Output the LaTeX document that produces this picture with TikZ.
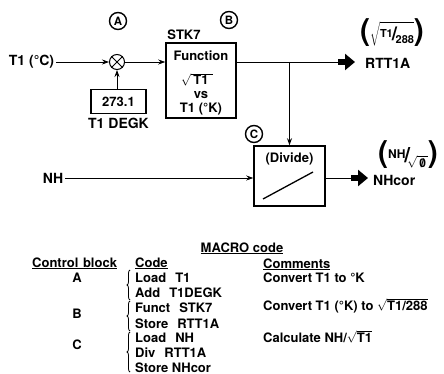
\documentclass[tikz,border=0pt]{standalone}
\usepackage{fontspec}
\setmainfont{TeX Gyre Heros}
\usetikzlibrary{arrows.meta,decorations.pathreplacing,calc}
\newcommand{\myfrac}[2]{\raisebox{0.5ex}{\fontsize{11}{11}\selectfont #1}\kern-1pt{\fontsize{19}{19}\selectfont/}\kern-1.5pt\raisebox{-0.35ex}{\fontsize{11}{11}\selectfont #2}}
\newcommand{\bigpar}[1]{{\fontsize{30}{30}\selectfont #1}}
\newcommand{\slzero}{\ooalign{0\cr\hidewidth/\hidewidth\cr}}
\begin{document}
\begin{tikzpicture}[x=1pt,y=-1pt,
  font=\fontsize{13}{15}\selectfont\bfseries,
  box/.style={draw, line width=1.5pt, inner sep=0},
  conn/.style={line width=0.8pt, -{Stealth[length=7pt,width=5pt]}},
  plain/.style={line width=0.8pt},
  fat/.style={line width=6pt, -{Triangle[length=10pt,width=16pt]}},
  lbl/.style={inner sep=0},
  big/.style={inner sep=0, font=\fontsize{14}{16}\selectfont\bfseries},
  tbl/.style={inner sep=0, anchor=base west},
  brc/.style={decorate, decoration={brace, amplitude=3pt}, line width=0.8pt},
  circled/.style={circle, draw, line width=1.4pt, minimum size=17pt, inner sep=0, font=\fontsize{11.5}{11.5}\selectfont\bfseries}]
\useasboundingbox (0,0) rectangle (444,374);

% ---- block A ----
\node[circled] (ca) at (118,21) {A};
\node[big] (t1c) at (31.5,62) {T1 (°C)};
\node[circle, draw, line width=1pt, minimum size=15pt, inner sep=0] (mul) at (117,62) {};
\draw[line width=1pt] (mul.north west) -- (mul.south east) (mul.north east) -- (mul.south west);
\draw[conn, shorten <=2pt] (t1c) -- (mul);
\node[box, minimum width=55pt, minimum height=24pt] (k) at (118.5,101.5) {273.1};
\node[big] (kl) at (118.5,123) {T1 DEGK};
\draw[conn] (mul |- k.north) -- (mul.south);

% ---- block B ----
\node[circled] (cb) at (229,20) {B};
\node[lbl] (stk) at (184,35) {STK7};
\node[box, minimum width=70pt, minimum height=75pt] (B) at (201,80.5) {};
\node[lbl] (fn) at (201,56) {Function};
\node[lbl] (sq) at (197,79.5) {$\sqrt{\rule{0pt}{8pt}\hbox{\bfseries\,T1\,\,}}$};
\node[lbl] (vs) at (201,95) {vs};
\node[lbl] (tk) at (201,109) {T1 (°K)};
\draw[conn] (mul) -- (B.west |- mul);

\coordinate (br) at (289.5,62);
\coordinate (fr) at (338,62);
\node[big, anchor=west] (rtt) at (365,63) {RTT1A};
\draw[plain] (B.east |- br) -- (fr);
\draw[fat, shorten >=10pt] (fr) -- (rtt.west |- fr);
\node[lbl] (f1) at (392,33) {\bigpar{(}$\sqrt{\rule{0pt}{15pt}\hbox{\bfseries\myfrac{T1}{288}}}$\bigpar{)}};

% ---- block C ----
\node[circled] (cc) at (254,134) {C};
\node[box, minimum width=71pt, minimum height=60pt] (C) at (289.5,176) {};
\node[lbl] (dv) at (289.5,159) {(Divide)};
\coordinate (d1) at (263,199);
\coordinate (d2) at (313,172);
\draw[line width=1.3pt] (d1) -- (d2);
\draw[conn] (br) -- (C.north);

\node[big] (nh) at (53,178) {NH};
\draw[conn, shorten <=2pt] (nh) -- (C.west |- nh);
\coordinate (fc) at (351,178);
\node[big, anchor=west] (nhc) at (373,180) {NHcor};
\draw[plain] (C.east |- fc) -- (fc);
\draw[fat, shorten >=5pt] (fc) -- (nhc.west |- fc);
\node[lbl] (f2) at (408,155) {\bigpar{(}\raisebox{0.7ex}{\fontsize{12}{12}\selectfont NH}\kern-1pt{\fontsize{21}{21}\selectfont/}\kern-3pt\raisebox{-0.6ex}{$\sqrt{\hbox{\fontsize{12}{12}\selectfont\bfseries\,\slzero\,}}$}\bigpar{)}};

% ---- MACRO code table ----
\node[lbl, anchor=base] (mac) at (242,252) {\underline{MACRO code}};
\node[tbl] (hcb) at (32,267) {\underline{Control\kern1pt\ block}};
\node[tbl] (hcd) at (135,267) {\underline{Code}};
\node[tbl] (hcm) at (263,268) {\underline{Comments}};

\node[lbl] (la) at (77,278) {A};
\node[lbl] (lb) at (77,314) {B};
\node[lbl] (lc) at (77,345) {C};

\node[tbl] (r1) at (135,282) {Load\hspace{9pt}T1};
\node[tbl] (r2) at (135,297) {Add\hspace{9pt}T1DEGK};
\node[tbl] (r3) at (135,312) {Funct\hspace{9pt}STK7};
\node[tbl] (r4) at (135,328) {Store\hspace{9pt}RTT1A};
\node[tbl] (r5) at (135,342) {Load\hspace{9pt}NH};
\node[tbl] (r6) at (135,357) {Div\hspace{9pt}RTT1A};
\node[tbl] (r7) at (135,372) {Store NHcor};

\coordinate (ba1) at (130,300); \coordinate (ba2) at (130,270);
\coordinate (bb1) at (130,331); \coordinate (bb2) at (130,301);
\coordinate (bc1) at (130,372); \coordinate (bc2) at (130,332);
\draw[brc] (ba1) -- (ba2);
\draw[brc] (bb1) -- (bb2);
\draw[brc] (bc1) -- (bc2);

\node[tbl] (m1) at (263,282) {Convert T1 to °K};
\node[tbl] (m2) at (263,310) {Convert T1 (°K) to $\sqrt{\hbox{\bfseries T1/288}}$};
\node[tbl] (m3) at (263,342) {Calculate NH/$\sqrt{\hbox{\bfseries T1}}$};
\end{tikzpicture}
\end{document}
